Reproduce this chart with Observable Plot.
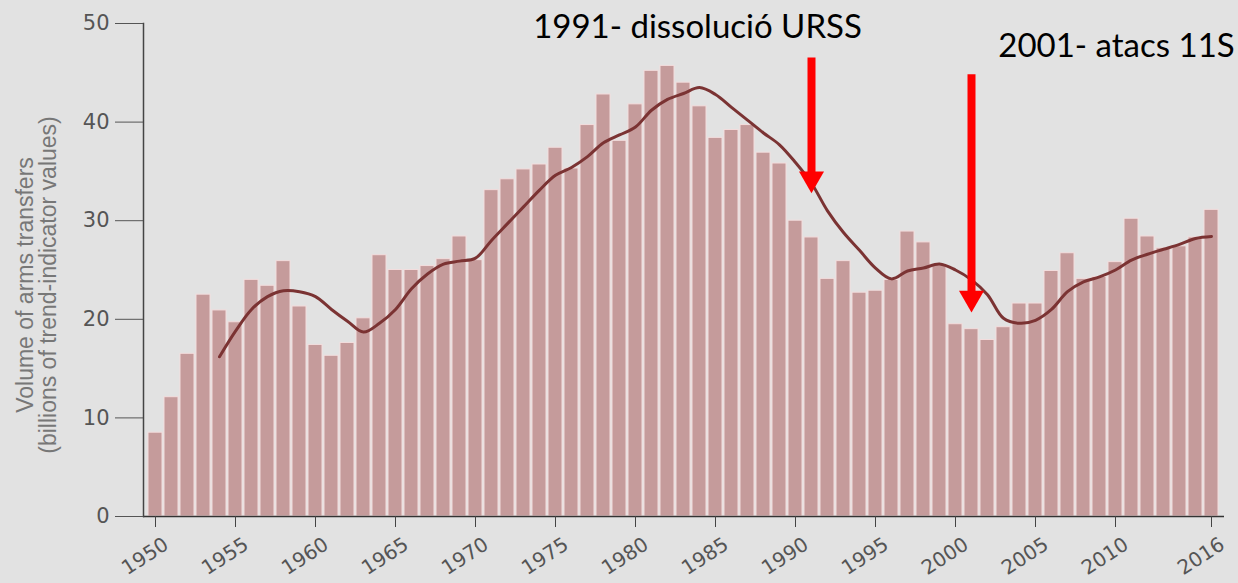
<!DOCTYPE html>
<html><head><meta charset="utf-8">
<script src="https://cdn.jsdelivr.net/npm/d3@7"></script>
<script src="https://cdn.jsdelivr.net/npm/@observablehq/plot@0.6"></script>
<style>
html,body{margin:0;padding:0;background:#e2e2e2;}
#chart svg{display:block;}
</style></head><body><div id="chart"></div>
<script>
const years = [1950,1951,1952,1953,1954,1955,1956,1957,1958,1959,
  1960,1961,1962,1963,1964,1965,1966,1967,1968,1969,
  1970,1971,1972,1973,1974,1975,1976,1977,1978,1979,
  1980,1981,1982,1983,1984,1985,1986,1987,1988,1989,
  1990,1991,1992,1993,1994,1995,1996,1997,1998,1999,
  2000,2001,2002,2003,2004,2005,2006,2007,2008,2009,
  2010,2011,2012,2013,2014,2015,2016];
const volumes = [8.5,12.1,16.5,22.5,20.9,19.7,24.0,23.4,25.9,21.3,
  17.4,16.3,17.6,20.1,26.5,25.0,25.0,25.4,26.1,28.4,
  26.0,33.1,34.2,35.2,35.7,37.4,35.3,39.7,42.8,38.1,
  41.8,45.2,45.7,44.0,41.6,38.4,39.2,39.7,36.9,35.8,
  30.0,28.3,24.1,25.9,22.7,22.9,24.0,28.9,27.8,25.5,
  19.5,19.0,17.9,19.2,21.6,21.6,24.9,26.7,24.1,24.3,
  25.8,30.2,28.4,27.2,27.4,28.3,31.1];
const trendYears = years.slice(4); // 1954–2016
const trendValues = [16.2,18.8,21.0,22.3,22.9,22.8,
  22.3,21.0,19.8,18.7,19.6,21.0,23.1,24.6,25.6,25.9,
  26.2,28.0,29.7,31.4,33.1,34.6,35.4,36.5,37.9,38.7,
  39.5,41.2,42.3,42.9,43.5,42.8,41.5,40.2,38.9,37.7,
  35.9,33.8,31.0,28.8,27.0,25.2,24.1,24.9,25.2,25.6,
  25.0,24.0,22.5,20.1,19.6,19.9,21.0,22.8,23.8,24.3,
  25.0,26.0,26.6,27.1,27.6,28.2,28.4];
const tickYears = [1950,1955,1960,1965,1970,1975,1980,1985,1990,1995,2000,2005,2010,2016];
const yTicks = [0,10,20,30,40,50];
const eventYears = [1991, 2001];
const eventLabels = ["1991- dissolució URSS", "2001- atacs 11S"];
const arrowTops = [46.5, 44.8];
const arrowTips = [32.8, 20.7];
const labelY = [49.6, 47.7];
const yLabel = "Volume of arms transfers\n(billions of trend-indicator values)";

const bars = years.map((year, i) => ({year, value: volumes[i]}));
const trend = trendYears.map((year, i) => ({year, value: trendValues[i]}));
const events = eventYears.map((year, i) => ({year, label: eventLabels[i], top: arrowTops[i], tip: arrowTips[i], ly: labelY[i]}));

const tickFont = "'DejaVu Sans', Verdana, sans-serif";

const chart = Plot.plot({
  width: 1238,
  height: 583,
  marginTop: 23,
  marginBottom: 67,
  marginLeft: 143,
  marginRight: 14,
  style: {background: "#e2e2e2", fontFamily: "'Liberation Sans', Arial, sans-serif"},
  x: {type: "band", domain: years, paddingInner: 0.12, paddingOuter: 0.1},
  y: {domain: [0, 50]},
  marks: [
    Plot.barY(bars, {x: "year", y: "value", fill: "#c59b9b", stroke: "#f3dddd", strokeWidth: 1}),
    Plot.line(trend, {x: "year", y: "value", stroke: "#7b3333", strokeWidth: 3, curve: "catmull-rom"}),
    Plot.ruleY([0], {stroke: "#333", strokeWidth: 1.5}),
    Plot.frame({anchor: "left", stroke: "#444", strokeWidth: 1.5}),
    Plot.axisY({ticks: yTicks, tickSize: 28, tickPadding: 6, fontSize: 21, fontFamily: tickFont, color: "#555", label: null}),
    Plot.axisX({ticks: tickYears, tickSize: 11, tickFormat: () => "", color: "#444", label: null}),
    Plot.text(tickYears, {x: d => d, text: d => String(d), frameAnchor: "bottom", rotate: -33, textAnchor: "end", lineAnchor: "middle", dx: 11, dy: 26, fontSize: 20, fontFamily: tickFont, fill: "#555"}),
    Plot.text([yLabel], {frameAnchor: "left", textAnchor: "middle", rotate: -90, dx: -106, dy: 15, fontSize: 23, fill: "#777", lineHeight: 0.98}),
    Plot.ruleX(events, {x: "year", y1: "top", y2: "tip", stroke: "#ff0000", strokeWidth: 8, insetBottom: 12}),
    Plot.dot(events, {x: "year", y: "tip", symbol: "triangle", r: 9.3, fill: "#ff0000", rotate: 180, dy: -14.4}),
    Plot.text(events.slice(0, 1), {x: "year", y: "ly", text: "label", dx: -114, fontSize: 33, fontFamily: "Lato", fill: "#000"}),
    Plot.text(events.slice(1), {x: "year", y: "ly", text: "label", dx: 145, fontSize: 33, fontFamily: "Lato", fill: "#000"})
  ]
});
document.getElementById("chart").append(chart);
</script></body></html>
